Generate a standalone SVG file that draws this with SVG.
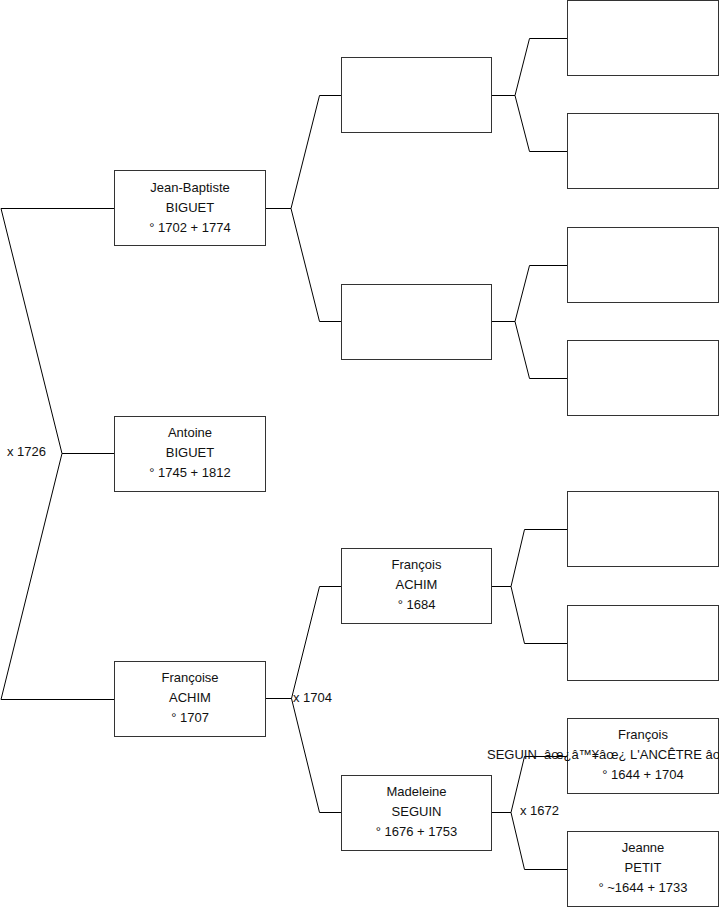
<svg xmlns="http://www.w3.org/2000/svg" width="719" height="908" viewBox="0 0 719 908">
<style>
rect.box{fill:#fff;stroke:#333;stroke-width:1}
.c{fill:none;stroke:#000;stroke-width:1}
text{font-family:"Liberation Sans",Arial,sans-serif;font-size:13px;fill:#111}
.m{text-anchor:middle}
</style>
<rect width="719" height="908" fill="#fff"/>
<g id="connectors" class="c">
<polyline points="114,453.5 62,453.5 1,208.5 114,208.5"/>
<polyline points="62,453.5 1,699.5 114,699.5"/>
<polyline points="265,208.5 291,208.5 319.5,95.5 341,95.5"/>
<polyline points="291,208.5 319.5,321.5 341,321.5"/>
<polyline points="265,698.5 291.5,698.5 319.5,586.5 341,586.5"/>
<polyline points="291.5,698.5 319.5,812.5 341,812.5"/>
<polyline points="491,95.5 515,95.5 529.5,38.5 567,38.5"/>
<polyline points="515,95.5 529.5,151.5 567,151.5"/>
<polyline points="491,321.5 515,321.5 529.5,265.5 567,265.5"/>
<polyline points="515,321.5 529.5,378.5 567,378.5"/>
<polyline points="491,586.5 511,586.5 524.5,529.5 567,529.5"/>
<polyline points="511,586.5 524.5,643.5 567,643.5"/>
<polyline points="491,812.5 511,812.5 524.5,756.5 567,756.5"/>
<polyline points="511,812.5 524.5,869.5 567,869.5"/>
</g>
<g id="labels">
<text x="7" y="456">x 1726</text>
<text x="293" y="702">x 1704</text>
<text x="520" y="815">x 1672</text>
</g>
<g id="n-antoine"><rect class="box" x="114.5" y="416.5" width="151" height="75"/>
<text class="m" x="190" y="437">Antoine</text><text class="m" x="190" y="457">BIGUET</text><text class="m" x="190" y="477">° 1745 + 1812</text></g>
<g id="n-jeanbaptiste"><rect class="box" x="114.5" y="170.5" width="151" height="75"/>
<text class="m" x="190" y="191.5">Jean-Baptiste</text><text class="m" x="190" y="211.5">BIGUET</text><text class="m" x="190" y="231.5">° 1702 + 1774</text></g>
<g id="n-francoise"><rect class="box" x="114.5" y="661.5" width="151" height="75"/>
<text class="m" x="190" y="682">Françoise</text><text class="m" x="190" y="702">ACHIM</text><text class="m" x="190" y="722">° 1707</text></g>
<g id="n-g3a"><rect class="box" x="341.5" y="57.5" width="150" height="75"/></g>
<g id="n-g3b"><rect class="box" x="341.5" y="284.5" width="150" height="75"/></g>
<g id="n-francois-achim"><rect class="box" x="341.5" y="548.5" width="150" height="75"/>
<text class="m" x="416.5" y="569">François</text><text class="m" x="416.5" y="589">ACHIM</text><text class="m" x="416.5" y="609">° 1684</text></g>
<g id="n-madeleine"><rect class="box" x="341.5" y="775.5" width="150" height="75"/>
<text class="m" x="416.5" y="796">Madeleine</text><text class="m" x="416.5" y="816">SEGUIN</text><text class="m" x="416.5" y="836">° 1676 + 1753</text></g>
<g id="n-g4a"><rect class="box" x="567.5" y="0.5" width="151" height="75"/></g>
<g id="n-g4b"><rect class="box" x="567.5" y="113.5" width="151" height="75"/></g>
<g id="n-g4c"><rect class="box" x="567.5" y="227.5" width="151" height="75"/></g>
<g id="n-g4d"><rect class="box" x="567.5" y="340.5" width="151" height="75"/></g>
<g id="n-g4e"><rect class="box" x="567.5" y="491.5" width="151" height="75"/></g>
<g id="n-g4f"><rect class="box" x="567.5" y="605.5" width="151" height="75"/></g>
<g id="n-francois-seguin"><rect class="box" x="567.5" y="718.5" width="151" height="75"/>
<text class="m" x="643" y="738.5">François</text><text x="487" y="758.5" xml:space="preserve">SEGUIN  âœ¿â™¥âœ¿ L'ANCÊTRE âœ¿â™¥âœ¿</text><text class="m" x="643" y="778.5">° 1644 + 1704</text></g>
<g id="n-jeanne"><rect class="box" x="567.5" y="831.5" width="151" height="75"/>
<text class="m" x="643" y="852">Jeanne</text><text class="m" x="643" y="872">PETIT</text><text class="m" x="643" y="892">° ~1644 + 1733</text></g>
</svg>
